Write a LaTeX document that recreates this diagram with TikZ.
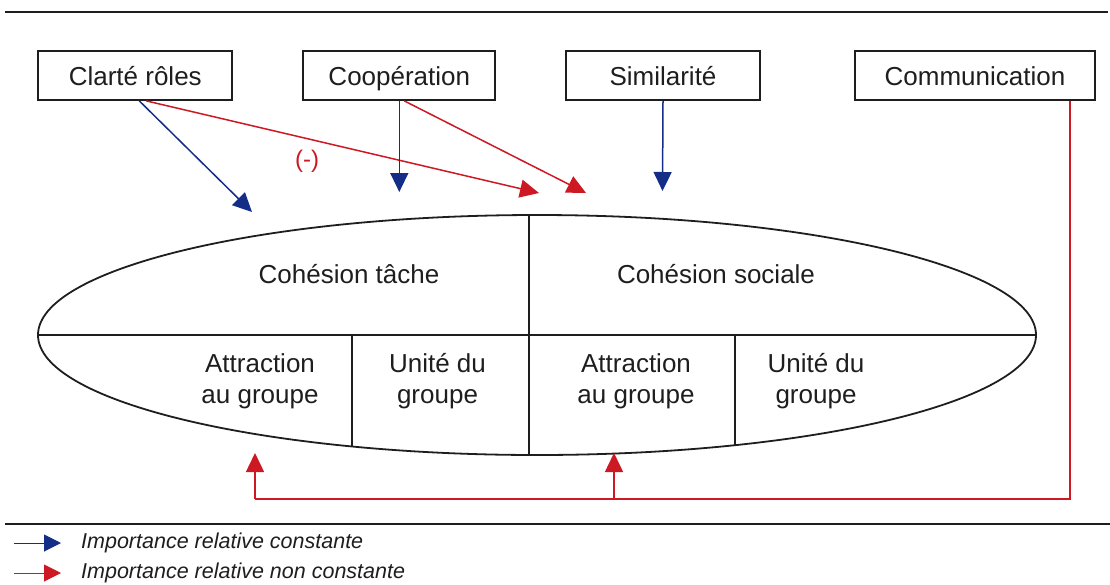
\documentclass[tikz,border=0pt]{standalone}
\usepackage{fontspec}
\setmainfont{Liberation Sans}
\usetikzlibrary{arrows.meta}
\definecolor{cblue}{RGB}{20,45,135}
\definecolor{cred}{RGB}{205,25,35}
\definecolor{ink}{RGB}{30,30,30}

\begin{document}
\begin{tikzpicture}[x=1pt,y=-1pt,
  factor/.style={draw=ink, line width=1.8pt, minimum width=#1, minimum height=49pt,
    inner sep=0pt, text height=24pt, text depth=5pt,
    font=\fontsize{26}{30}\selectfont, text=ink},
  lbl/.style={font=\fontsize{26}{31}\selectfont, text=ink, align=center, inner sep=0pt},
  legtext/.style={font=\fontsize{21.5}{24}\selectfont\itshape, text=ink, anchor=west, inner sep=0pt},
  constlink/.style={draw=cblue, line width=1.5pt, -{Triangle[length=19pt,width=18pt]}},
  varlink/.style={draw=cred, line width=1.5pt, -{Triangle[length=19pt,width=18pt]}},
  rule/.style={draw=ink, line width=1.2pt},
]
\useasboundingbox (0,0) rectangle (1110,584);

% horizontal rules
\draw[rule] (5,12) -- (1108,12);
\draw[rule] (5,524) -- (1110,524);

% antecedent factors
\node[factor=194] (clarte) at (135.3,75.5) {Clarté rôles};
\node[factor=192] (coop)   at (399.3,75.5) {Coopération};
\node[factor=194] (simil)  at (663,75.5)   {Similarité};
\node[factor=240] (comm)   at (975,75.5)   {Communication};

% cohesion ellipse with its compartments
\coordinate (ctr) at (537,335);
\begin{scope}
  \clip (ctr) ellipse [x radius=499, y radius=120];
  \draw[ink, line width=1.6pt] (30,335) -- (1045,335);
  \draw[ink, line width=1.6pt] (529,200) -- (529,470);
  \draw[ink, line width=1.6pt] (352,335) -- (352,470);
  \draw[ink, line width=1.6pt] (735,335) -- (735,470);
\end{scope}
\draw[ink, line width=1.8pt] (ctr) ellipse [x radius=499, y radius=120];

\node[lbl] (tache)  at (349,274) {Cohésion tâche};
\node[lbl] (sociale) at (716,274) {Cohésion sociale};
\node[lbl] (attT) at (260,381) {Attraction\\au groupe};
\node[lbl] (uniT) at (437.5,381) {Unité du\\groupe};
\node[lbl] (attS) at (636,381) {Attraction\\au groupe};
\node[lbl] (uniS) at (816,381) {Unité du\\groupe};

% arrow targets
\coordinate (tClB) at (252,212);
\coordinate (tClR) at (539,193);
\coordinate (tCoB) at (399.3,192);
\coordinate (tCoR) at (586,193);
\coordinate (tSiB) at (662.5,191);
\coordinate (tAtT) at (255,453);
\coordinate (tAtS) at (614,453);
\coordinate (corner) at ([xshift=-26pt]comm.south east |- 0,499);
\coordinate (junction) at (614,499);
\coordinate (leftend) at (255,499);

% influences
\draw[constlink] ([xshift=4pt]clarte.south) -- (tClB);
\draw[varlink]   ([xshift=11pt]clarte.south) -- (tClR);
\node[font=\fontsize{24}{26}\selectfont, text=cred] (neg) at (307,161) {(-)};
\draw[constlink] (coop.south) -- (tCoB);
\draw[varlink]   ([xshift=5pt]coop.south) -- (tCoR);
\draw[constlink] (simil.south) -- (tSiB);
\draw[cred, line width=1.6pt] ([xshift=-26pt]comm.south east) -- (corner) -- (leftend);
\draw[varlink] (leftend) -- (tAtT);
\draw[varlink] (junction) -- (tAtS);

% legend
\coordinate (lgA0) at (14,543);
\coordinate (lgA1) at (61,543);
\coordinate (lgB0) at (14,573);
\coordinate (lgB1) at (61,573);
\draw[draw=cblue, line width=1pt, -{Triangle[length=17pt,width=17pt]}] (lgA0) -- (lgA1);
\draw[draw=cred, line width=1pt, -{Triangle[length=17pt,width=17pt]}] (lgB0) -- (lgB1);
\node[legtext] (legA) at (81,543) {Importance relative constante};
\node[legtext] (legB) at (81,573) {Importance relative non constante};
\end{tikzpicture}
\end{document}
